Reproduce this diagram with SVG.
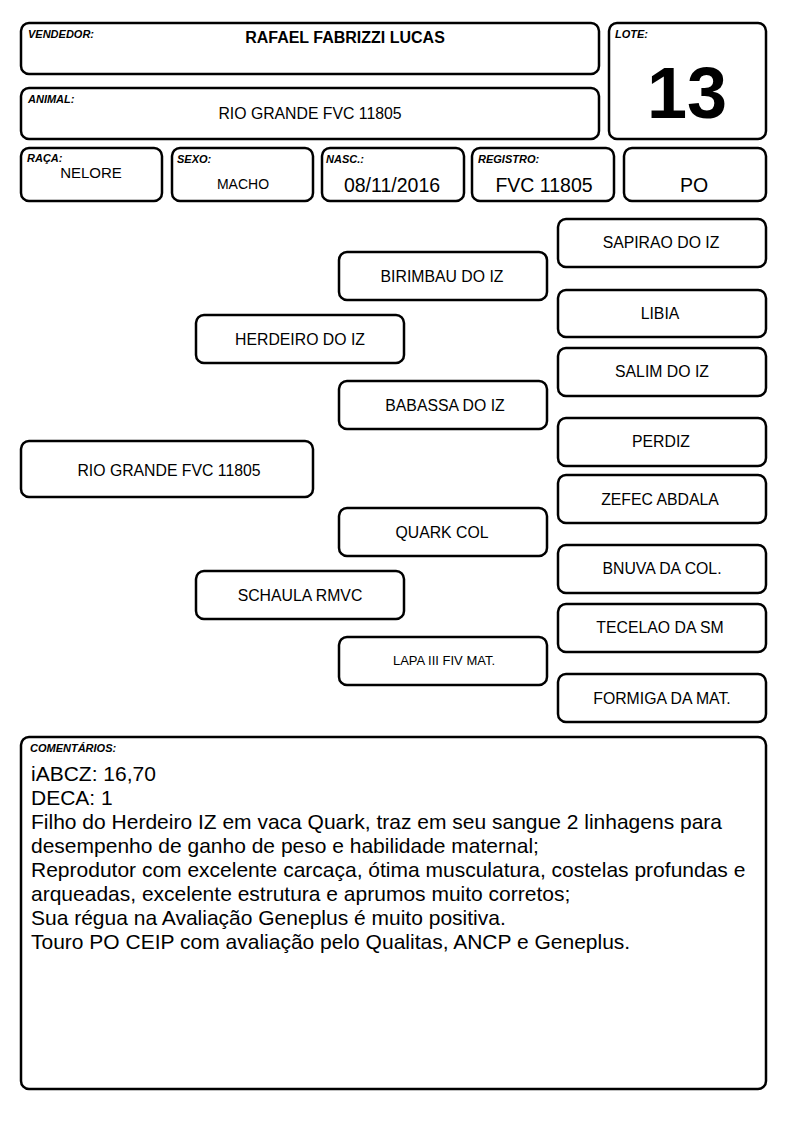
<svg xmlns="http://www.w3.org/2000/svg" width="794" height="1123" viewBox="0 0 794 1123">
<style>
.b{fill:#fff;stroke:#000;stroke-width:2.5}
.l{font-family:"Liberation Sans",Arial,sans-serif;font-size:11px;font-weight:bold;font-style:italic;fill:#000}
.t{font-family:"Liberation Sans",Arial,sans-serif;font-size:15.8px;fill:#000;text-anchor:middle}
.c{font-family:"Liberation Sans",Arial,sans-serif;font-size:21px;fill:#000}
</style>
<rect width="794" height="1123" fill="#fff"/>
<g id="vendedor"><rect class="b" x="21" y="23" width="578" height="51" rx="8"/><text class="l" x="28" y="38">VENDEDOR:</text><text class="t" x="345" y="43" style="font-weight:bold;font-size:16px">RAFAEL FABRIZZI LUCAS</text></g>
<g id="animal"><rect class="b" x="21" y="88" width="578" height="51" rx="8"/><text class="l" x="28" y="103">ANIMAL:</text><text class="t" x="310" y="119">RIO GRANDE FVC 11805</text></g>
<g id="lote"><rect class="b" x="609" y="23" width="157" height="116" rx="8"/><text class="l" x="615" y="38">LOTE:</text><text class="t" x="687" y="118" style="font-size:72px;font-weight:bold">13</text></g>
<g id="raca"><rect class="b" x="21" y="148" width="141" height="53" rx="8"/><text class="l" x="27" y="162">RAÇA:</text><text class="t" x="91" y="178" style="font-size:15px">NELORE</text></g>
<g id="sexo"><rect class="b" x="172" y="148" width="141" height="53" rx="8"/><text class="l" x="177" y="163">SEXO:</text><text class="t" x="243" y="189" style="font-size:14px">MACHO</text></g>
<g id="nasc"><rect class="b" x="322" y="148" width="142" height="53" rx="8"/><text class="l" x="326" y="163">NASC.:</text><text class="t" x="392" y="192" style="font-size:19.5px">08/11/2016</text></g>
<g id="registro"><rect class="b" x="472" y="148" width="142" height="53" rx="8"/><text class="l" x="478" y="163">REGISTRO:</text><text class="t" x="544" y="192" style="font-size:19.5px">FVC 11805</text></g>
<g id="categoria"><rect class="b" x="624" y="148" width="142" height="53" rx="8"/><text class="t" x="694" y="192" style="font-size:19.5px">PO</text></g>
<g id="sapirao"><rect class="b" x="558" y="219" width="208" height="48" rx="8"/><text class="t" x="661" y="248">SAPIRAO DO IZ</text></g>
<g id="birimbau"><rect class="b" x="339" y="252" width="208" height="48" rx="8"/><text class="t" x="442" y="282">BIRIMBAU DO IZ</text></g>
<g id="libia"><rect class="b" x="558" y="290" width="208" height="47" rx="8"/><text class="t" x="660" y="319">LIBIA</text></g>
<g id="herdeiro"><rect class="b" x="196" y="315" width="208" height="48" rx="8"/><text class="t" x="300" y="345">HERDEIRO DO IZ</text></g>
<g id="salim"><rect class="b" x="558" y="348" width="208" height="48" rx="8"/><text class="t" x="662" y="377">SALIM DO IZ</text></g>
<g id="babassa"><rect class="b" x="339" y="381" width="208" height="48" rx="8"/><text class="t" x="445" y="411">BABASSA DO IZ</text></g>
<g id="perdiz"><rect class="b" x="558" y="418" width="208" height="48" rx="8"/><text class="t" x="661" y="447">PERDIZ</text></g>
<g id="riogrande"><rect class="b" x="21" y="441" width="292" height="56" rx="8"/><text class="t" x="169" y="476">RIO GRANDE FVC 11805</text></g>
<g id="zefec"><rect class="b" x="558" y="475" width="208" height="48" rx="8"/><text class="t" x="660" y="505">ZEFEC ABDALA</text></g>
<g id="quark"><rect class="b" x="339" y="508" width="208" height="48" rx="8"/><text class="t" x="442" y="538">QUARK COL</text></g>
<g id="bnuva"><rect class="b" x="558" y="545" width="208" height="48" rx="8"/><text class="t" x="662" y="574">BNUVA DA COL.</text></g>
<g id="schaula"><rect class="b" x="196" y="571" width="208" height="48" rx="8"/><text class="t" x="300" y="601">SCHAULA RMVC</text></g>
<g id="tecelao"><rect class="b" x="558" y="604" width="208" height="48" rx="8"/><text class="t" x="660" y="633">TECELAO DA SM</text></g>
<g id="lapa"><rect class="b" x="339" y="637" width="208" height="48" rx="8"/><text class="t" x="444" y="665" style="font-size:13px">LAPA III FIV MAT.</text></g>
<g id="formiga"><rect class="b" x="558" y="674" width="208" height="48" rx="8"/><text class="t" x="662" y="704">FORMIGA DA MAT.</text></g>
<g id="connectors"></g>
<g id="comentarios"><rect class="b" x="21" y="737" width="745" height="352" rx="8"/><text class="l" x="30" y="752">COMENTÁRIOS:</text>
<text class="c" x="31" y="781">iABCZ: 16,70</text>
<text class="c" x="31" y="805">DECA: 1</text>
<text class="c" x="31" y="829">Filho do Herdeiro IZ em vaca Quark, traz em seu sangue 2 linhagens para</text>
<text class="c" x="31" y="853">desempenho de ganho de peso e habilidade maternal;</text>
<text class="c" x="31" y="877">Reprodutor com excelente carcaça, ótima musculatura, costelas profundas e</text>
<text class="c" x="31" y="901">arqueadas, excelente estrutura e aprumos muito corretos;</text>
<text class="c" x="31" y="925">Sua régua na Avaliação Geneplus é muito positiva.</text>
<text class="c" x="31" y="949">Touro PO CEIP com avaliação pelo Qualitas, ANCP e Geneplus.</text>
</g>
</svg>
